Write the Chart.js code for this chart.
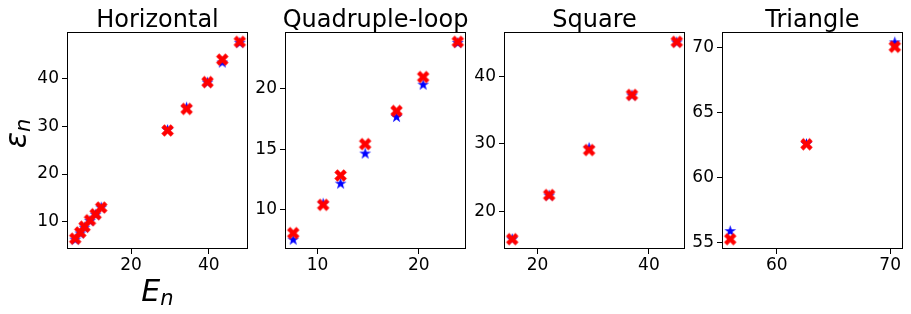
<!DOCTYPE html>
<html>
<head>
<meta charset="utf-8">
<script src="https://cdn.jsdelivr.net/npm/chart.js@4/dist/chart.umd.min.js"></script>
<style>
  body { margin: 0; background: #fff; }
  #wrap { position: relative; width: 911px; height: 314px; overflow: hidden; }
  #wrap canvas { position: absolute; top: 0; }
</style>
</head>
<body>
<div id="wrap"></div>
<script>
// values: E_n (x), blue stars and red crosses (y)
const horizE    = [5.6, 6.9, 8.0, 9.4, 10.85, 12.3, 29.4, 34.3, 39.7, 43.5, 48.0];
const horizBlue = [6.4, 7.7, 8.9, 10.3, 11.6, 13.1, 29.3, 34.0, 39.2, 43.4, 47.5];
const horizRed  = [6.5, 7.8, 9.0, 10.35, 11.6, 13.0, 29.1, 33.6, 39.2, 43.9, 47.6];

const quadE    = [7.59, 10.55, 12.27, 14.7, 17.8, 20.43, 23.85];
const quadBlue = [7.57, 10.55, 12.21, 14.7, 17.73, 20.4, 23.85];
const quadRed  = [8.07, 10.41, 12.84, 15.44, 18.18, 20.99, 23.9];

const squareE    = [15.45, 22.08, 29.25, 36.95, 45.0];
const squareBlue = [15.9, 22.4, 29.5, 37.3, 45.2];
const squareRed  = [15.83, 22.4, 29.1, 37.3, 45.2];

const triE    = [55.89, 62.62, 70.41];
const triBlue = [55.89, 62.6, 70.43];
const triRed  = [55.23, 62.54, 70.05];

const titles = ['Horizontal', 'Quadruple-loop', 'Square', 'Triangle'];
const xTicks = [[20, 40], [10, 20], [20, 40], [60, 70]];
const yTicks = [[10, 20, 30, 40], [10, 15, 20], [20, 30, 40], [55, 60, 65, 70]];

// where each plot box sits on the page
const boxLeft = [67, 285, 504, 722];
const boxWidth = 182;
const yAxisW = [67, 45, 45, 45];

Chart.defaults.font.family = 'DejaVu Sans';
Chart.defaults.color = '#000';

// matplotlib-like filled markers
function starMarker(color, r) {
  const c = document.createElement('canvas');
  const s = Math.ceil(r * 2 + 2);
  c.width = s; c.height = s;
  const g = c.getContext('2d');
  g.translate(s / 2, s / 2 + r * 0.1);
  g.beginPath();
  for (let i = 0; i < 10; i++) {
    const rad = i % 2 ? r * 0.381966 : r;
    const a = -Math.PI / 2 + i * Math.PI / 5;
    g.lineTo(rad * Math.cos(a), rad * Math.sin(a));
  }
  g.closePath();
  g.fillStyle = color;
  g.fill();
  return c;
}

function xMarker(color, size) {
  const c = document.createElement('canvas');
  const s = Math.ceil(size + 2);
  c.width = s; c.height = s;
  const g = c.getContext('2d');
  g.translate(s / 2, s / 2);
  g.rotate(Math.PI / 4);
  const h = size / 0.943 / 2, w = h / 3;
  const pts = [[w, -h], [w, -w], [h, -w], [h, w], [w, w], [w, h],
               [-w, h], [-w, w], [-h, w], [-h, -w], [-w, -w], [-w, -h]];
  g.beginPath();
  pts.forEach(p => g.lineTo(p[0], p[1]));
  g.closePath();
  g.fillStyle = color;
  g.fill();
  return c;
}

const blueStar = starMarker('#0000ff', 6.2);
const redX = xMarker('#ff0000', 12.5);

function range(vals) {
  const lo = Math.min(...vals), hi = Math.max(...vals);
  const m = (hi - lo) * 0.05;
  return [lo - m, hi + m];
}

const panelText = {
  id: 'panelText',
  afterDraw(chart, args, opts) {
    const { ctx, chartArea: a } = chart;
    ctx.save();
    // frame
    ctx.strokeStyle = '#000';
    ctx.lineWidth = 1;
    ctx.strokeRect(Math.round(a.left) + 0.5, Math.round(a.top) + 0.5,
                   Math.round(a.right - a.left) - 1, Math.round(a.bottom - a.top) - 1);
    // title
    ctx.fillStyle = '#000';
    ctx.textAlign = 'center';
    ctx.textBaseline = 'alphabetic';
    ctx.font = '24px "DejaVu Sans"';
    ctx.fillText(opts.title, (a.left + a.right) / 2, 27);

    if (opts.labels) {
      ctx.textAlign = 'left';
      const big = 'italic 30px "DejaVu Sans"', small = 'italic 21px "DejaVu Sans"';
      // x label
      ctx.font = big;
      const wE = ctx.measureText('E').width;
      ctx.font = small;
      const wn = ctx.measureText('n').width;
      let x0 = (a.left + a.right) / 2 - (wE + wn) / 2;
      ctx.font = big;
      ctx.fillText('E', x0, 301);
      ctx.font = small;
      ctx.fillText('n', x0 + wE, 305);
      // y label
      ctx.font = big;
      const we = ctx.measureText('ε').width;
      ctx.translate(26, (a.top + a.bottom) / 2 + (we + wn) / 2 - 7);
      ctx.rotate(-Math.PI / 2);
      ctx.fillText('ε', 0, 0);
      ctx.font = small;
      ctx.fillText('n', we, 4);
    }
    ctx.restore();
  }
};

const panels = [
  [horizE, horizBlue, horizRed],
  [quadE, quadBlue, quadRed],
  [squareE, squareBlue, squareRed],
  [triE, triBlue, triRed]
];

const wrap = document.getElementById('wrap');

panels.forEach((p, i) => {
  const [xs, blue, red] = p;
  const canvas = document.createElement('canvas');
  const w = yAxisW[i] + boxWidth + 4;
  canvas.width = w;
  canvas.height = 314;
  canvas.style.left = (boxLeft[i] - yAxisW[i]) + 'px';
  wrap.appendChild(canvas);

  const xr = range(xs);
  const yr = range(blue.concat(red));

  new Chart(canvas.getContext('2d'), {
    type: 'scatter',
    data: {
      datasets: [
        {
          label: 'predicted',
          data: xs.map((x, k) => ({ x: x, y: red[k] })),
          pointStyle: redX,
          order: 0
        },
        {
          label: 'exact',
          data: xs.map((x, k) => ({ x: x, y: blue[k] })),
          pointStyle: blueStar,
          order: 1
        }
      ]
    },
    options: {
      responsive: false,
      animation: false,
      devicePixelRatio: 1,
      layout: { padding: { top: 32, right: 4, bottom: 0, left: 0 } },
      plugins: {
        legend: { display: false },
        tooltip: { enabled: false },
        panelText: { title: titles[i], labels: i === 0 }
      },
      scales: {
        x: {
          type: 'linear',
          min: xr[0],
          max: xr[1],
          afterBuildTicks: s => { s.ticks = xTicks[i].map(v => ({ value: v })); },
          afterFit: s => { s.height = 65; },
          grid: { drawOnChartArea: false, drawTicks: true, tickLength: 5, color: '#000' },
          border: { display: false },
          ticks: { font: { size: 17 }, color: '#000', padding: 1, maxRotation: 0, autoSkip: false }
        },
        y: {
          type: 'linear',
          min: yr[0],
          max: yr[1],
          afterBuildTicks: s => { s.ticks = yTicks[i].map(v => ({ value: v })); },
          afterFit: s => { s.width = yAxisW[i]; },
          grid: { drawOnChartArea: false, drawTicks: true, tickLength: 5, color: '#000' },
          border: { display: false },
          ticks: { font: { size: 17 }, color: '#000', padding: 3, autoSkip: false }
        }
      }
    },
    plugins: [panelText]
  });
});
</script>
</body>
</html>
